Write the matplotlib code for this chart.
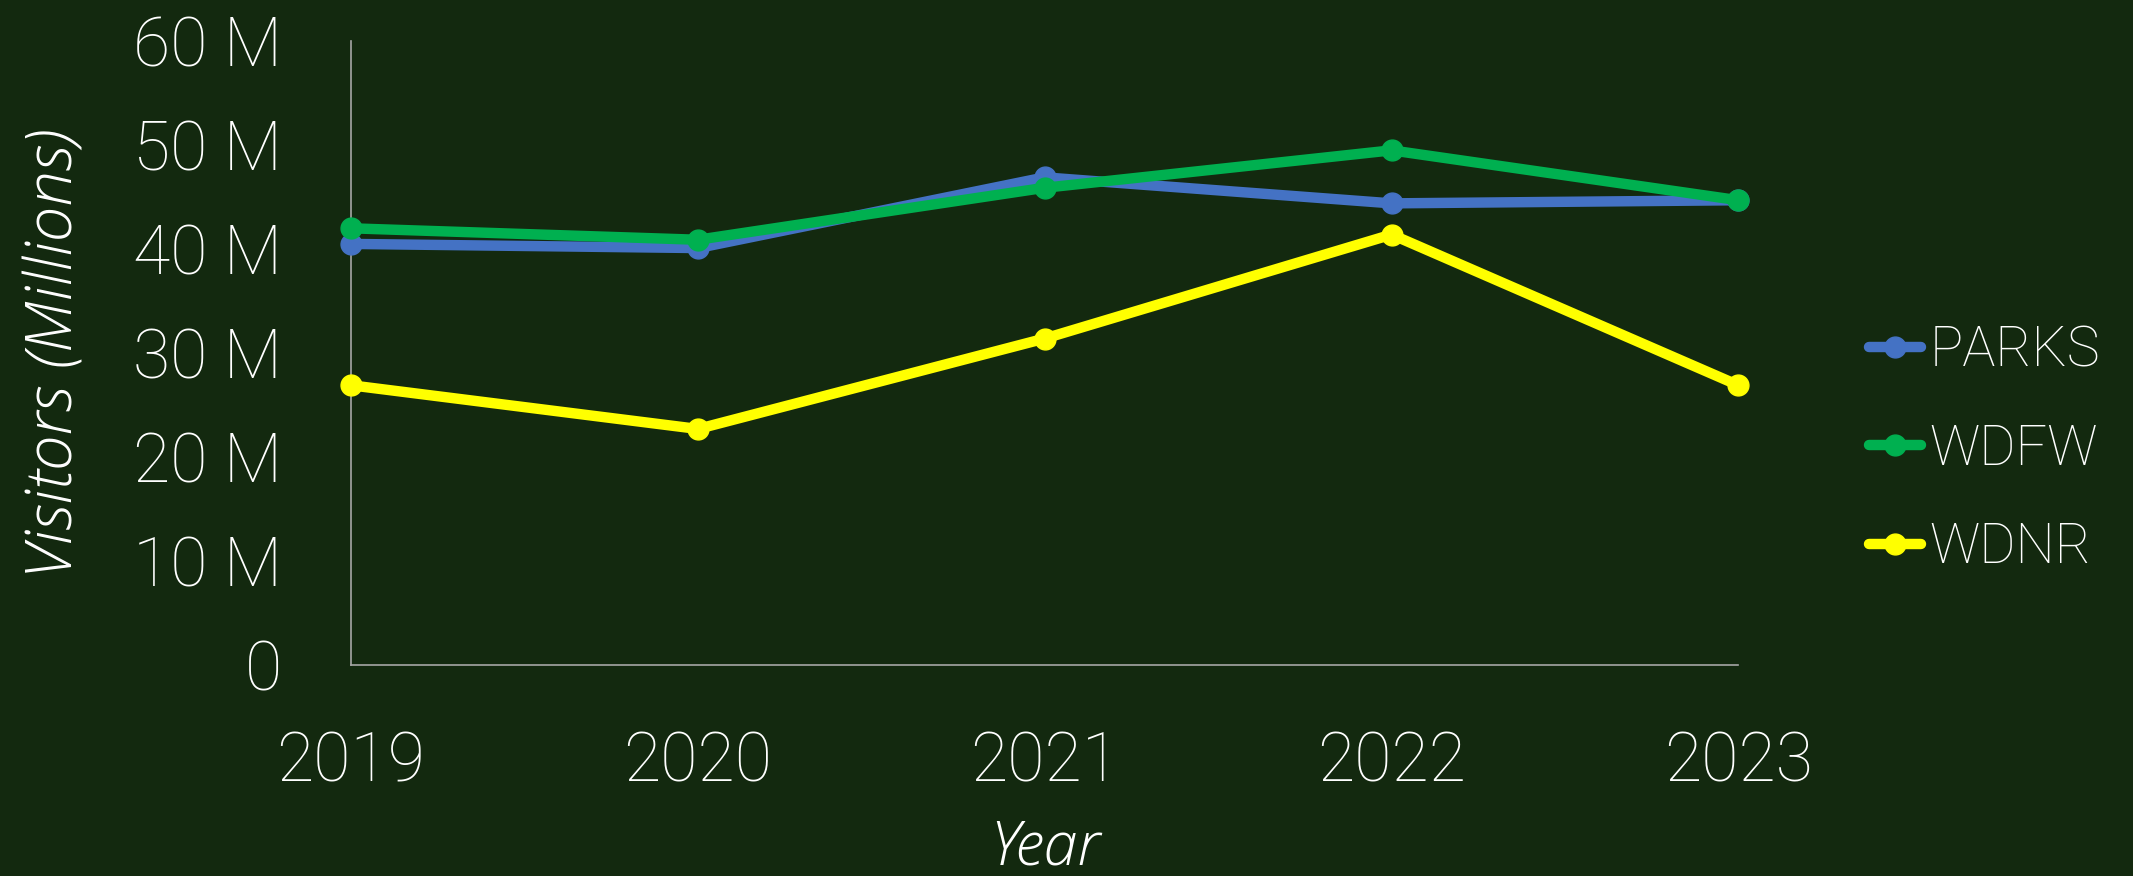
import matplotlib
matplotlib.use('Agg')
import matplotlib.pyplot as plt
from matplotlib.ticker import FuncFormatter

years = [2019, 2020, 2021, 2022, 2023]
parks = [40.5, 40.1, 46.9, 44.4, 44.7]
wdfw = [42.0, 40.9, 45.9, 49.5, 44.7]
wdnr = [26.9, 22.7, 31.4, 41.4, 26.9]

bg = '#13290f'
plt.rcParams['font.family'] = ['Roboto', 'DejaVu Sans']
plt.rcParams['font.weight'] = 'light'

fig = plt.figure(figsize=(21.33, 8.76), dpi=100, facecolor=bg)
ax = fig.add_axes([0.1646, 0.2409, 0.8150 - 0.1646, 0.953 - 0.2409])
ax.set_facecolor(bg)

series = [('PARKS', parks, '#4472C4'), ('WDFW', wdfw, '#00B050'), ('WDNR', wdnr, '#FFFF00')]
for name, vals, col in series:
    ax.plot(years, vals, color=col, lw=7.5, marker='o', ms=15,
            solid_capstyle='round', label=name, zorder=3, clip_on=False)

ax.set_xlim(2019, 2023)
ax.set_ylim(0, 60)
ax.set_xticks(years)
ax.set_yticks(range(0, 61, 10))
ax.yaxis.set_major_formatter(FuncFormatter(lambda v, p: '0' if v == 0 else f'{int(v)} M'))

for s in ['top', 'right']:
    ax.spines[s].set_visible(False)
for s in ['left', 'bottom']:
    ax.spines[s].set_color('#a6a6a6')
    ax.spines[s].set_linewidth(1.2)

ax.tick_params(length=0, colors='white', labelsize=49)
ax.tick_params(axis='x', pad=47)
ax.tick_params(axis='y', pad=50)

# axis titles: light italic
ax.set_ylabel('Visitors (Millions)', color='white', fontsize=46, style='italic',
              family=['Open Sans', 'DejaVu Sans'], fontweight='light')
ax.yaxis.set_label_coords(-0.19, 0.5)
ax.set_xlabel('Year', color='white', fontsize=44, style='italic',
              family=['Open Sans', 'DejaVu Sans'], fontweight='light')
ax.xaxis.set_label_coords(0.5, -0.245)

leg = fig.legend(*ax.get_legend_handles_labels(), loc='center left',
                 bbox_to_anchor=(0.876, 0.487), frameon=False,
                 fontsize=40, labelcolor='white', handlelength=0.95, handletextpad=0.15,
                 labelspacing=0.82, borderaxespad=0, borderpad=0)

fig.savefig('out.png', dpi=100, facecolor=bg)
